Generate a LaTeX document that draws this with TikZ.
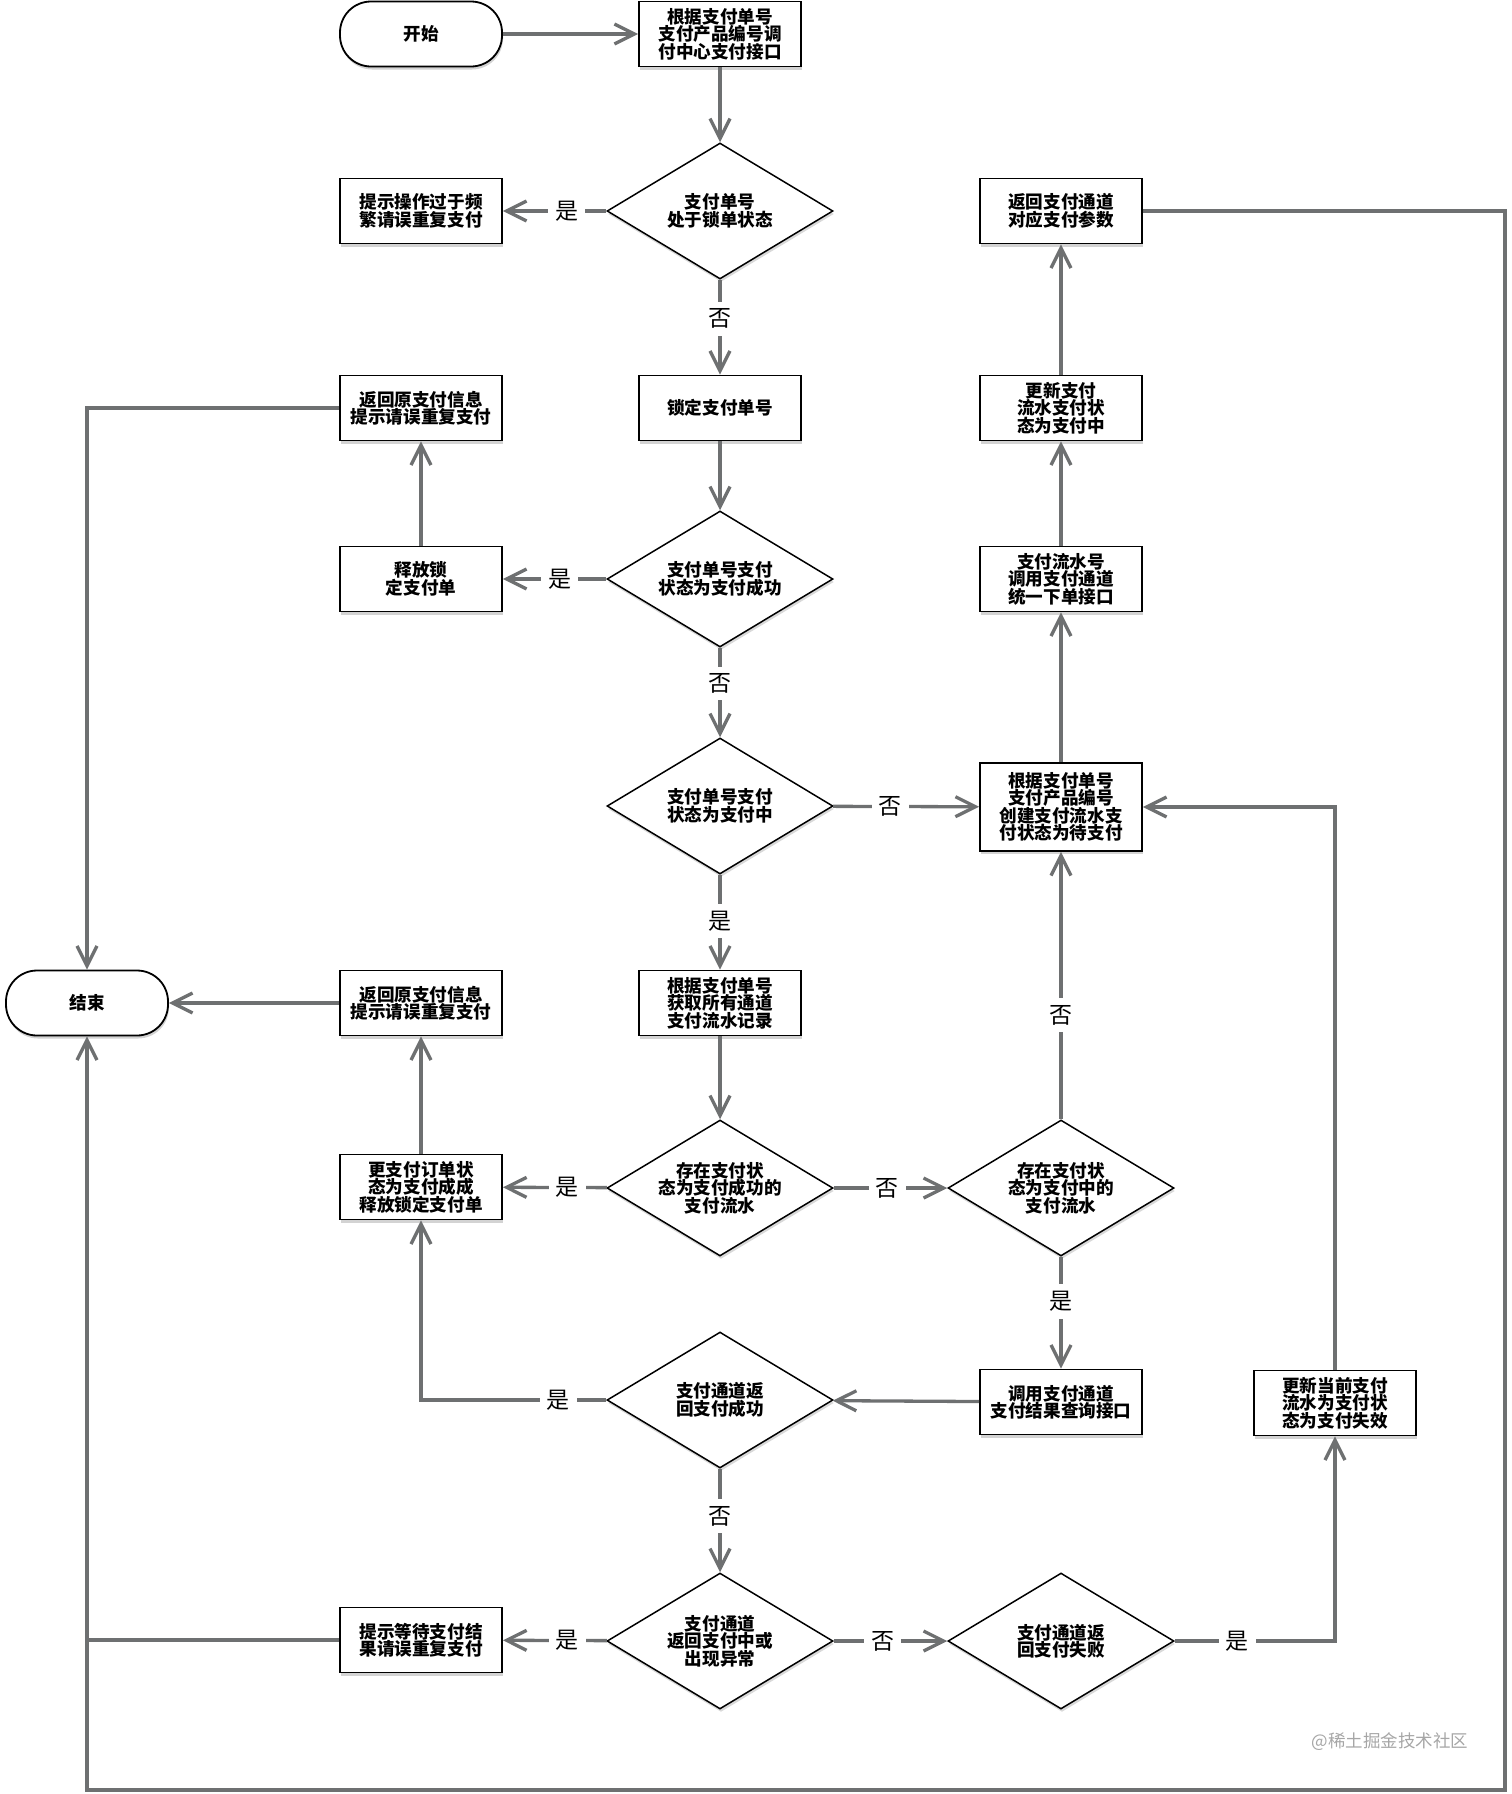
\documentclass[tikz,border=0pt]{standalone}
\usepackage{fontspec}
\newfontfamily\cjk{Noto Sans CJK SC}
\usetikzlibrary{arrows.meta,positioning,calc,shapes.geometric,shadows}

\definecolor{lineg}{HTML}{6E7071}

\tikzset{
  box/.style={draw=black, line width=1.8pt, fill=white, minimum width=162pt, minimum height=65pt,
    align=center, inner sep=0pt, font=\cjk\bfseries\fontsize{17.6}{17.5}\selectfont,
    drop shadow={shadow xshift=1pt, shadow yshift=-3pt, opacity=.35}},
  term/.style={box, rounded corners=31pt},
  dec/.style={diamond, draw=black, line width=1.5pt, fill=white, aspect=1.66,
    minimum width=226pt, minimum height=136pt, inner sep=0pt, align=center,
    font=\cjk\bfseries\fontsize{17.6}{17.5}\selectfont,
    drop shadow={shadow xshift=1pt, shadow yshift=-3pt, opacity=.3}},
  lbl/.style={fill=white, inner sep=7pt, font=\cjk\fontsize{23}{23}\selectfont, text=black},
  flow/.style={draw=lineg, line width=3.3pt, -{Straight Barb[length=20pt,width=20pt]}},
  wire/.style={draw=lineg, line width=3.3pt}
}

\begin{document}
\begin{tikzpicture}[x=1pt, y=-1pt]
    \useasboundingbox (0,0) rectangle (1512,1794);

    % left and middle columns
    \node[term] (start) at (421,34) {开始};
    \node[box] (callpay) at (720,34) {根据支付单号\\支付产品编号调\\付中心支付接口};
    \node[dec] (qlock) at (720,211) {支付单号\\处于锁单状态};
    \node[box] (busy) at (421,211) {提示操作过于频\\繁请误重复支付};
    \node[box] (lock) at (720,408) {锁定支付单号};
    \node[box] (dupA) at (421,408) {返回原支付信息\\提示请误重复支付};
    \node[dec] (qsucc) at (720,579) {支付单号支付\\状态为支付成功};
    \node[box] (unlock) at (421,579) {释放锁\\定支付单};
    \node[dec] (qpaying) at (720,806) {支付单号支付\\状态为支付中};
    \node[term] (end) at (87,1003) {结束};
    \node[box] (dupB) at (421,1003) {返回原支付信息\\提示请误重复支付};
    \node[box] (fetch) at (720,1003) {根据支付单号\\获取所有通道\\支付流水记录};
    \node[box] (setok) at (421,1187) {更支付订单状\\态为支付成成\\释放锁定支付单};
    \node[dec] (qflowok) at (720,1188) {存在支付状\\态为支付成功的\\支付流水};
    \node[dec] (qchanok) at (720,1400) {支付通道返\\回支付成功};
    \node[dec] (qchanwait) at (720,1641) {支付通道\\返回支付中或\\出现异常};
    \node[box] (waitmsg) at (421,1640) {提示等待支付结\\果请误重复支付};

    % right columns
    \node[box] (params) at (1061,211) {返回支付通道\\对应支付参数};
    \node[box] (upflow) at (1061,408) {更新支付\\流水支付状\\态为支付中};
    \node[box] (order) at (1061,579) {支付流水号\\调用支付通道\\统一下单接口};
    \node[box, minimum height=88pt] (create) at (1061,807) {根据支付单号\\支付产品编号\\创建支付流水支\\付状态为待支付};
    \node[dec] (qflowing) at (1061,1188) {存在支付状\\态为支付中的\\支付流水};
    \node[box] (query) at (1061,1402) {调用支付通道\\支付结果查询接口};
    \node[dec] (qchanfail) at (1061,1641) {支付通道返\\回支付失败};
    \node[box] (expire) at (1335,1403) {更新当前支付\\流水为支付状\\态为支付失效};
    \coordinate (rim) at (1505,1790);

    \node[font=\cjk\fontsize{17.5}{17.5}\selectfont, text=black!35] (mark) at (1390,1742) {@稀土掘金技术社区};

    % connectors
    \draw[flow] (start) -- (callpay);
    \draw[flow] (callpay) -- (qlock);
    \draw[flow] (qlock) -- node[lbl,pos=.38] {是} (busy);
    \draw[flow] (qlock) -- node[lbl,pos=.41] {否} (lock);
    \draw[flow] (lock) -- (qsucc);
    \draw[flow] (qsucc) -- node[lbl,pos=.45] {是} (unlock);
    \draw[flow] (unlock) -- (dupA);
    \draw[flow] (dupA.west) -| (end.north);
    \draw[flow] (qsucc) -- node[lbl,pos=.4] {否} (qpaying);
    \draw[flow] (qpaying) -- node[lbl,pos=.39] {否} (create);
    \draw[flow] (qpaying) -- node[lbl,pos=.49] {是} (fetch);
    \draw[flow] (create) -- (order);
    \draw[flow] (order) -- (upflow);
    \draw[flow] (upflow) -- (params);
    \draw[flow] (params.east) -| (rim) -| (end.south);

    \draw[flow] (fetch) -- (qflowok);
    \draw[flow] (qflowok) -- node[lbl,pos=.38] {是} (setok);
    \draw[flow] (qflowok) -- node[lbl,pos=.47] {否} (qflowing);
    \draw[flow] (setok) -- (dupB);
    \draw[flow] (dupB) -- (end);
    \draw[flow] (qflowing) -- node[lbl,pos=.39] {否} (create);
    \draw[flow] (qflowing) -- node[lbl,pos=.4] {是} (query);
    \draw[flow] (query) -- (qchanok);
    \draw[flow] (qchanok.west) -- node[lbl,pos=.26] {是} (qchanok.west -| setok.south) -- (setok.south);
    \draw[flow] (qchanok) -- node[lbl,pos=.46] {否} (qchanwait);
    \draw[flow] (qchanwait) -- node[lbl,pos=.38] {是} (waitmsg);
    \draw[wire] (waitmsg.west) -- (waitmsg.west -| end.south);
    \draw[flow] (qchanwait) -- node[lbl,pos=.43] {否} (qchanfail);
    \draw[flow] (qchanfail.east) -- node[lbl,pos=.39] {是} (qchanfail.east -| expire.south) -- (expire.south);
    \draw[flow] (expire.north) |- (create.east);
\end{tikzpicture}
\end{document}
